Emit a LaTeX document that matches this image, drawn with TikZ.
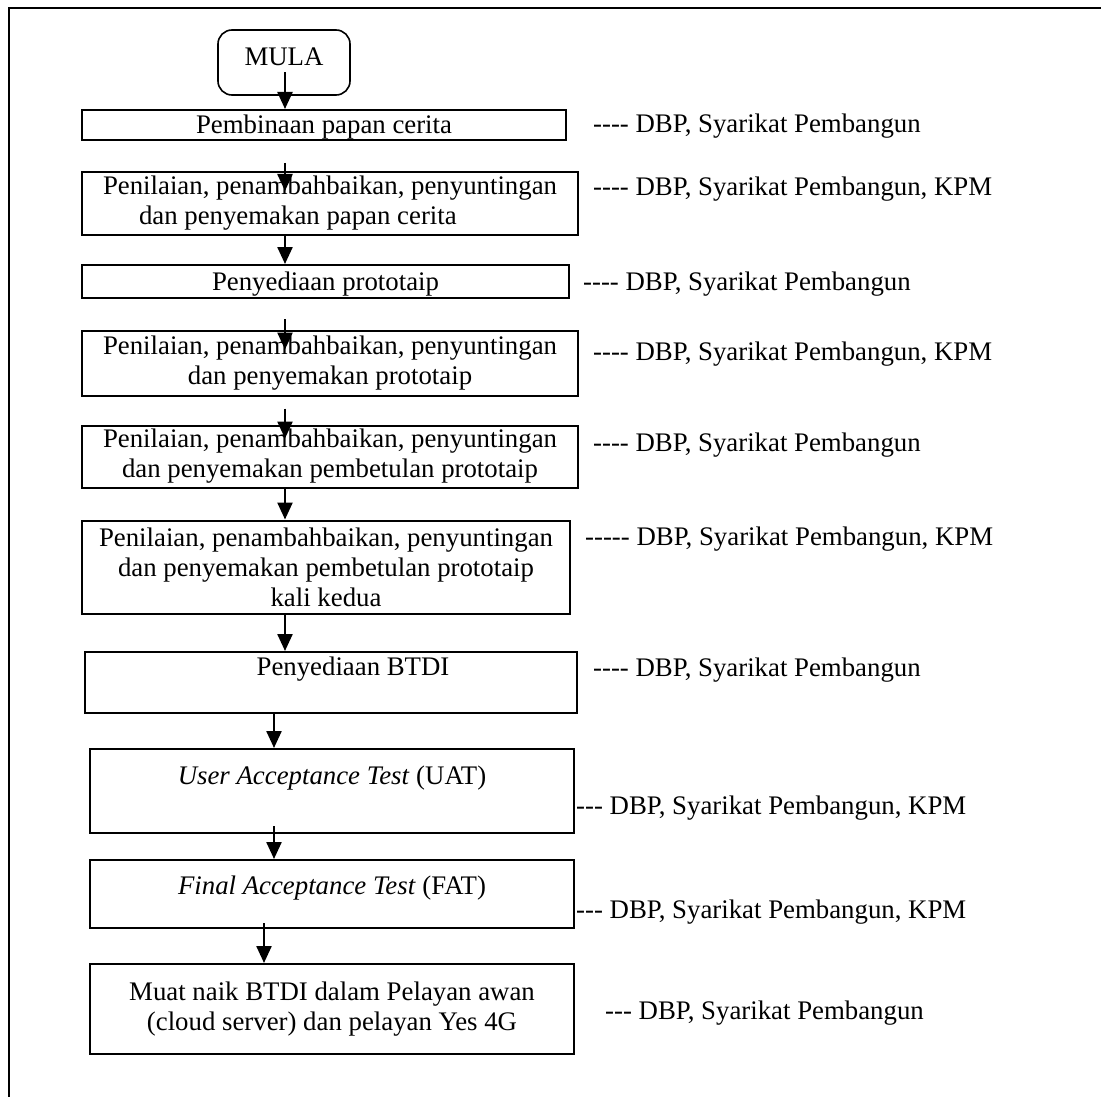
\documentclass[tikz,border=0pt]{standalone}
\usepackage{fontspec}
\setmainfont{Liberation Serif}
\usetikzlibrary{arrows.meta,calc}

\newcommand{\flowfont}{\fontsize{26.8}{30}\selectfont}

\tikzset{
  stepbox/.style={draw, line width=2pt, inner sep=0pt, align=center, font=\flowfont},
  startbox/.style={stepbox, rounded corners=14pt, line width=1.6pt},
  steptext/.style={inner sep=0pt, font=\flowfont},
  who/.style={anchor=base west, inner sep=0pt, font=\flowfont},
  flow/.style={-{Triangle[length=17pt,width=15pt]}, line width=2.4pt},
}

\begin{document}
\begin{tikzpicture}[x=1pt, y=-1pt]
        \useasboundingbox (0,0) rectangle (1101,1097);

        % Bingkai
        \draw[line width=2.2pt] (1101,8) -- (9,8) -- (9,1097);

        % Mula
        \node[startbox, minimum width=132, minimum height=65, text depth=11pt] (mula) at (284,62.5) {MULA};

        % Langkah-langkah
        \node[stepbox, minimum width=484, minimum height=30, text height=24pt, text depth=6pt] (s1) at (324,125)
        {Pembinaan papan cerita};
        \node[stepbox, minimum width=496, minimum height=63, align=left] (s2) at (330,203.5)
        {Penilaian, penambahbaikan, penyuntingan\\\hspace*{36pt}dan penyemakan papan cerita};
        \node[stepbox, minimum width=487, minimum height=33, text height=24pt, text depth=6pt] (s3) at (325.5,281.5)
        {Penyediaan prototaip};
        \node[stepbox, minimum width=496, minimum height=65] (s4) at (330,363)
        {Penilaian, penambahbaikan, penyuntingan\\dan penyemakan prototaip};
        \node[stepbox, minimum width=496, minimum height=62] (s5) at (330,456.5)
        {Penilaian, penambahbaikan, penyuntingan\\dan penyemakan pembetulan prototaip};
        \node[stepbox, minimum width=488, minimum height=93] (s6) at (326,567)
        {Penilaian, penambahbaikan, penyuntingan\\dan penyemakan pembetulan prototaip\\kali kedua};
        \node[stepbox, minimum width=492, minimum height=61] (s7) at (331,682.5) {};
        \node[steptext] (t7) at (353,669) {Penyediaan BTDI};
        \node[stepbox, minimum width=484, minimum height=84] (s8) at (332,791) {};
        \node[steptext] (t8) at (332,778) {\textit{User Acceptance Test} (UAT)};
        \node[stepbox, minimum width=484, minimum height=68] (s9) at (332,894) {};
        \node[steptext] (t9) at (332,888) {\textit{Final Acceptance Test} (FAT)};
        \node[stepbox, minimum width=484, minimum height=90] (s10) at (332,1009)
        {Muat naik BTDI dalam Pelayan awan\\(cloud server) dan pelayan Yes 4G};

        % Pihak terlibat
        \node[who] (l1) at (593,133) {-{}-{}-{}- DBP, Syarikat Pembangun};
        \node[who] (l2) at (593,196) {-{}-{}-{}- DBP, Syarikat Pembangun, KPM};
        \node[who] (l3) at (583,290) {-{}-{}-{}- DBP, Syarikat Pembangun};
        \node[who] (l4) at (593,360) {-{}-{}-{}- DBP, Syarikat Pembangun, KPM};
        \node[who] (l5) at (593,451) {-{}-{}-{}- DBP, Syarikat Pembangun};
        \node[who] (l6) at (585,545) {-{}-{}-{}-{}- DBP, Syarikat Pembangun, KPM};
        \node[who] (l7) at (593,676) {-{}-{}-{}- DBP, Syarikat Pembangun};
        \node[who] (l8) at (576,814) {-{}-{}- DBP, Syarikat Pembangun, KPM};
        \node[who] (l9) at (576,918) {-{}-{}- DBP, Syarikat Pembangun, KPM};
        \node[who] (l10) at (605,1019) {-{}-{}- DBP, Syarikat Pembangun};

        % Lajur anak panah
        \coordinate (c1) at (285,0);
        \coordinate (c3) at (274,0);
        \coordinate (c4) at (264,0);

        % Anak panah
        \draw[flow] ($(mula.center -| c1)+(0,10)$) -- (s1.north -| c1);
        \draw[flow] ($(s1.south -| c1)+(0,22)$) -- ($(s2.north -| c1)+(0,20)$);
        \draw[flow] (s2.south -| c1) -- (s3.north -| c1);
        \draw[flow] ($(s3.south -| c1)+(0,20)$) -- ($(s4.north -| c1)+(0,20)$);
        \draw[flow] ($(s4.south -| c1)+(0,12)$) -- ($(s5.north -| c1)+(0,14)$);
        \draw[flow] (s5.south -| c1) -- (s6.north -| c1);
        \draw[flow] (s6.south -| c1) -- (s7.north -| c1);
        \draw[flow] (s7.south -| c3) -- (s8.north -| c3);
        \draw[flow] ($(s8.south -| c3)+(0,-8)$) -- (s9.north -| c3);
        \draw[flow] ($(s9.south -| c4)+(0,-6)$) -- (s10.north -| c4);
    \end{tikzpicture}
\end{document}
